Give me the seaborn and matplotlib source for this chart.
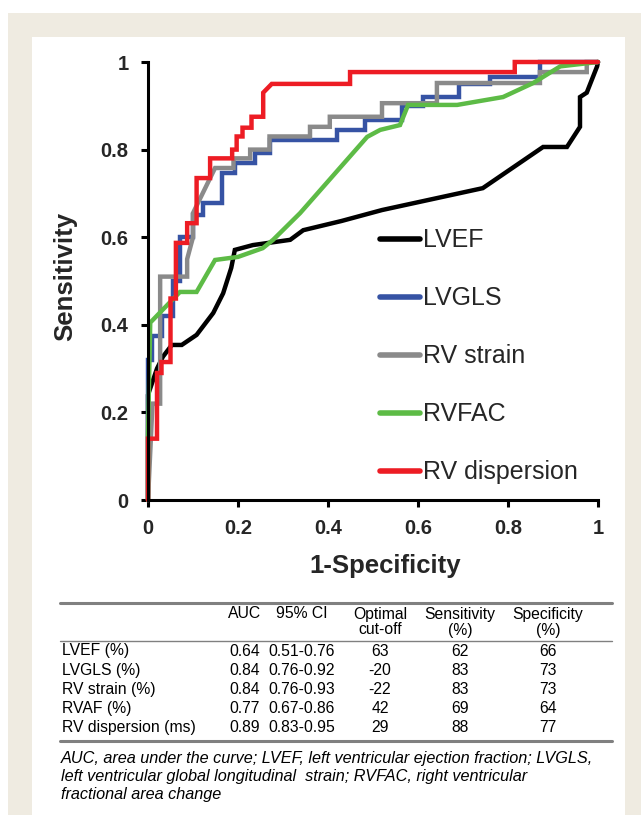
"""ROC curves for LV/RV parameters with summary table underneath."""

import matplotlib
import pandas as pd

matplotlib.use("Agg")

import matplotlib.pyplot as plt  # noqa: E402
import seaborn as sns  # noqa: E402
from matplotlib.lines import Line2D  # noqa: E402
from matplotlib.patches import Rectangle  # noqa: E402

# --- ROC curves -------------------------------------------------------------
LVEF_FPR = [0, 0, 0.02, 0.033, 0.053, 0.075, 0.108, 0.145, 0.167, 0.185, 0.193,
            0.233, 0.316, 0.345, 0.43, 0.52, 0.744, 0.878, 0.931, 0.96, 0.96,
            0.975, 0.998, 1.0]
LVEF_TPR = [0, 0.24, 0.30, 0.327, 0.354, 0.354, 0.377, 0.427, 0.472, 0.53, 0.571,
            0.582, 0.594, 0.616, 0.637, 0.662, 0.712, 0.806, 0.806, 0.852, 0.92,
            0.93, 0.99, 1.0]

LVGLS_FPR = [0, 0, 0.008, 0.008, 0.03, 0.03, 0.056, 0.056, 0.071, 0.071, 0.1, 0.1,
             0.123, 0.123, 0.164, 0.164, 0.193, 0.193, 0.238, 0.238, 0.27, 0.27,
             0.42, 0.42, 0.482, 0.482, 0.564, 0.564, 0.61, 0.61, 0.69, 0.69,
             0.76, 0.76, 0.87, 0.87, 1.0]
LVGLS_TPR = [0, 0.32, 0.32, 0.375, 0.375, 0.42, 0.42, 0.5, 0.5, 0.60, 0.60, 0.65,
             0.65, 0.678, 0.678, 0.746, 0.746, 0.77, 0.77, 0.793, 0.793, 0.822,
             0.822, 0.845, 0.845, 0.868, 0.868, 0.9, 0.9, 0.92, 0.92, 0.95,
             0.95, 0.965, 0.965, 1.0, 1.0]

RVS_FPR = [0, 0.01, 0.027, 0.027, 0.087, 0.087, 0.1, 0.1, 0.149, 0.19, 0.19,
           0.227, 0.227, 0.27, 0.27, 0.36, 0.36, 0.404, 0.404, 0.52, 0.52,
           0.642, 0.642, 0.871, 0.871, 0.975, 0.975, 1.0]
RVS_TPR = [0, 0.22, 0.22, 0.51, 0.51, 0.55, 0.6, 0.655, 0.758, 0.758, 0.78,
           0.78, 0.80, 0.80, 0.83, 0.83, 0.852, 0.852, 0.875, 0.875, 0.906,
           0.906, 0.952, 0.952, 0.977, 0.977, 1.0, 1.0]

RVFAC_FPR = [0, 0, 0.005, 0.071, 0.108, 0.149, 0.2, 0.255, 0.278, 0.338, 0.487,
             0.516, 0.56, 0.578, 0.687, 0.789, 0.856, 0.916, 1.0]
RVFAC_TPR = [0, 0.15, 0.405, 0.475, 0.475, 0.548, 0.555, 0.575, 0.594, 0.655,
             0.829, 0.845, 0.856, 0.902, 0.902, 0.92, 0.952, 0.99, 1.0]

RVD_FPR = [0, 0, 0.02, 0.02, 0.03, 0.03, 0.05, 0.05, 0.062, 0.062, 0.087, 0.087,
           0.108, 0.108, 0.138, 0.138, 0.187, 0.187, 0.197, 0.197, 0.21, 0.21,
           0.23, 0.23, 0.256, 0.256, 0.275, 0.449, 0.449, 0.815, 0.815, 1.0]
RVD_TPR = [0, 0.14, 0.14, 0.29, 0.29, 0.315, 0.315, 0.46, 0.46, 0.587, 0.587, 0.632,
           0.632, 0.735, 0.735, 0.78, 0.78, 0.80, 0.80, 0.83, 0.83, 0.85,
           0.85, 0.875, 0.875, 0.93, 0.95, 0.95, 0.977, 0.977, 1.0, 1.0]

SERIES = ["LVEF", "LVGLS", "RV strain", "RVFAC", "RV dispersion"]
COLORS = ["#000000", "#3653a4", "#8a8a8a", "#5dbb46", "#ed1c24"]
TICKS = [0, 0.2, 0.4, 0.6, 0.8, 1.0]
TICK_LABELS = ["0", "0.2", "0.4", "0.6", "0.8", "1"]

# --- summary table -----------------------------------------------------------
HEADER_1 = ["AUC", "95% CI", "Optimal", "Sensitivity", "Specificity"]
HEADER_2 = ["", "", "cut-off", "(%)", "(%)"]
ROW_LABELS = ["LVEF (%)", "LVGLS (%)", "RV strain (%)", "RVAF (%)", "RV dispersion (ms)"]
AUC = ["0.64", "0.84", "0.84", "0.77", "0.89"]
CI95 = ["0.51-0.76", "0.76-0.92", "0.76-0.93", "0.67-0.86", "0.83-0.95"]
CUTOFF = ["63", "-20", "-22", "42", "29"]
SENS = ["62", "83", "83", "69", "88"]
SPEC = ["66", "73", "73", "64", "77"]
FOOTNOTE = [
    "AUC, area under the curve; LVEF, left ventricular ejection fraction; LVGLS,",
    "left ventricular global longitudinal  strain; RVFAC, right ventricular",
    "fractional area change",
]

W, H = 641, 815


def fx(px):
    return px / W


def fy(py):
    return 1 - py / H


def main():
    sns.set_theme(style="white")
    plt.rcParams["font.family"] = ["Liberation Sans", "DejaVu Sans"]

    frames = []
    for name, fpr, tpr in zip(
        SERIES,
        [LVEF_FPR, LVGLS_FPR, RVS_FPR, RVFAC_FPR, RVD_FPR],
        [LVEF_TPR, LVGLS_TPR, RVS_TPR, RVFAC_TPR, RVD_TPR],
    ):
        frames.append(pd.DataFrame({"fpr": fpr, "tpr": tpr, "marker": name}))
    df = pd.concat(frames, ignore_index=True)

    fig = plt.figure(figsize=(W / 100, H / 100), dpi=100, facecolor="white")

    # beige page frame with white panel
    fig.add_artist(Rectangle((fx(8), 0), 1 - fx(8), fy(13), transform=fig.transFigure,
                             facecolor="#efebe1", edgecolor="none", zorder=-2))
    fig.add_artist(Rectangle((fx(32), 0), fx(625) - fx(32), fy(37), transform=fig.transFigure,
                             facecolor="white", edgecolor="none", zorder=-1))

    ax = fig.add_axes([fx(148), fy(500), fx(598) - fx(148), fy(62) - fy(500)])
    ax.patch.set_alpha(0)

    sns.lineplot(
        data=df, x="fpr", y="tpr", hue="marker", hue_order=SERIES,
        palette=COLORS, estimator=None, sort=False, linewidth=3.2, ax=ax,
    )
    for line in ax.lines:
        line.set_clip_on(False)
        line.set_solid_joinstyle("miter")

    ax.set_xlim(0, 1)
    ax.set_ylim(0, 1)
    ax.set_xticks(TICKS, TICK_LABELS)
    ax.set_yticks(TICKS, TICK_LABELS)
    for side in ("top", "right"):
        ax.spines[side].set_visible(False)
    for side in ("left", "bottom"):
        ax.spines[side].set_color("black")
        ax.spines[side].set_linewidth(2.2)
    ax.tick_params(axis="both", direction="out", length=5, width=2.2, color="black",
                   labelsize=14.5, pad=9, bottom=True, left=True)
    for lab in ax.get_xticklabels() + ax.get_yticklabels():
        lab.set_fontweight("bold")

    ax.set_xlabel("1-Specificity", fontsize=18.5, fontweight="bold", va="center")
    ax.set_ylabel("Sensitivity", fontsize=18.5, fontweight="bold", va="center")
    ax.xaxis.set_label_coords(0.527, -0.151)
    ax.yaxis.set_label_coords(-0.184, 0.51)

    handles, labels = ax.get_legend_handles_labels()
    leg = ax.legend(handles, labels, loc="upper left", bbox_to_anchor=(0.516, 0.62),
                    frameon=False, fontsize=18, handlelength=1.6, handletextpad=0.12,
                    labelspacing=1.36, borderpad=0, borderaxespad=0)
    for h in leg.get_lines():
        h.set_linewidth(4)

    # --- table ---
    rule = "#808080"
    for y, lw in [(603, 2.2), (641, 1.0), (741, 2.2)]:
        fig.add_artist(Line2D([fx(60), fx(612)], [fy(y), fy(y)], transform=fig.transFigure,
                              color=rule, lw=lw))
    col_x = [245, 302, 380, 460, 548]
    tkw = dict(fontsize=11.3, color="black", va="center")
    for cx, h1, h2 in zip(col_x, HEADER_1, HEADER_2):
        fig.text(fx(cx), fy(614), h1, ha="center", **tkw)
        if h2:
            fig.text(fx(cx), fy(630), h2, ha="center", **tkw)
    for i, lab in enumerate(ROW_LABELS):
        y = fy(651 + i * 19.2)
        fig.text(fx(62), y, lab, ha="left", **tkw)
        for cx, col in zip(col_x, [AUC, CI95, CUTOFF, SENS, SPEC]):
            fig.text(fx(cx), y, col[i], ha="center", **tkw)

    for i, line in enumerate(FOOTNOTE):
        fig.text(fx(61), fy(758 + i * 18), line, ha="left", va="center",
                 fontsize=11.7, style="italic", color="black")

    fig.savefig("out.png", dpi=100, facecolor="white")
    plt.close(fig)


if __name__ == "__main__":
    main()
